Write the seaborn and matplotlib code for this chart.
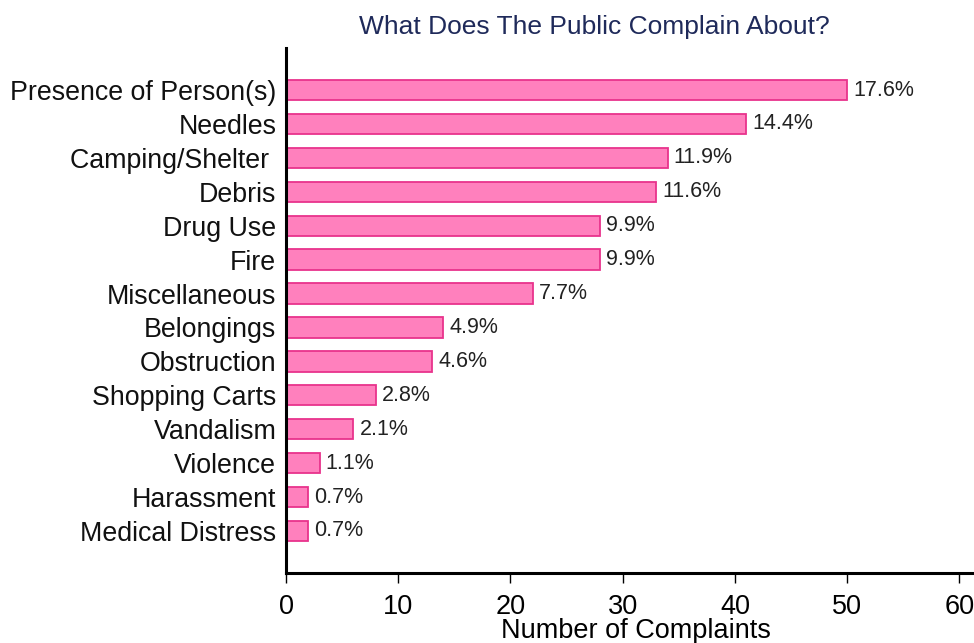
import matplotlib
matplotlib.use("Agg")
import matplotlib.pyplot as plt
import seaborn as sns
import pandas as pd

categories = ["Presence of Person(s)", "Needles", "Camping/Shelter ", "Debris", "Drug Use", "Fire",
              "Miscellaneous", "Belongings", "Obstruction", "Shopping Carts", "Vandalism",
              "Violence", "Harassment", "Medical Distress"]
counts = [50, 41, 34, 33, 28, 28, 22, 14, 13, 8, 6, 3, 2, 2]
pct_labels = ["17.6%", "14.4%", "11.9%", "11.6%", "9.9%", "9.9%", "7.7%", "4.9%", "4.6%",
              "2.8%", "2.1%", "1.1%", "0.7%", "0.7%"]
x_ticks = [0, 10, 20, 30, 40, 50, 60]

sns.set_theme(style="white")
plt.rcParams['font.family'] = ['Liberation Sans', 'DejaVu Sans']

df = pd.DataFrame({"category": categories, "count": counts})

fig = plt.figure(figsize=(9.74, 6.43), dpi=100)
ax = fig.add_axes([286/974, 70/643, 688/974, 525/643])
sns.barplot(data=df, x="count", y="category", ax=ax, color="#FF80BD",
            edgecolor="#E8338C", linewidth=1.3, width=0.6, saturation=1)

for i, (c, lab) in enumerate(zip(counts, pct_labels)):
    ax.text(c + 0.55, i, lab, va="center", ha="left", fontsize=15.5, color="#222222")

ax.set_xlim(0, 61.3)
ax.set_ylim(13 + 1.24, -1.24)
ax.set_xticks(x_ticks)
ax.tick_params(axis="x", labelsize=19.5, length=7, width=1, colors="#000000", pad=8, direction="out", bottom=True)
ax.tick_params(axis="y", labelsize=19.3, length=0, pad=7, colors="#000000")
for lab in ax.get_yticklabels():
    lab.set_color("#111111")
ax.set_ylabel("")
ax.set_xlabel("Number of Complaints", fontsize=19.5, color="#000000")
ax.xaxis.set_label_coords((636-286)/688, -(618-573)/525, transform=ax.transAxes)

sns.despine(ax=ax, top=True, right=True)
ax.spines["left"].set_linewidth(2.2)
ax.spines["bottom"].set_linewidth(2.2)
ax.spines["left"].set_color("#000000")
ax.spines["bottom"].set_color("#000000")

fig.text(594/974, 1 - 27/643, "What Does The Public Complain About?", ha="center", va="center",
         fontsize=19, color="#1F2A5A")

fig.savefig("out.png", dpi=100, facecolor="white")
